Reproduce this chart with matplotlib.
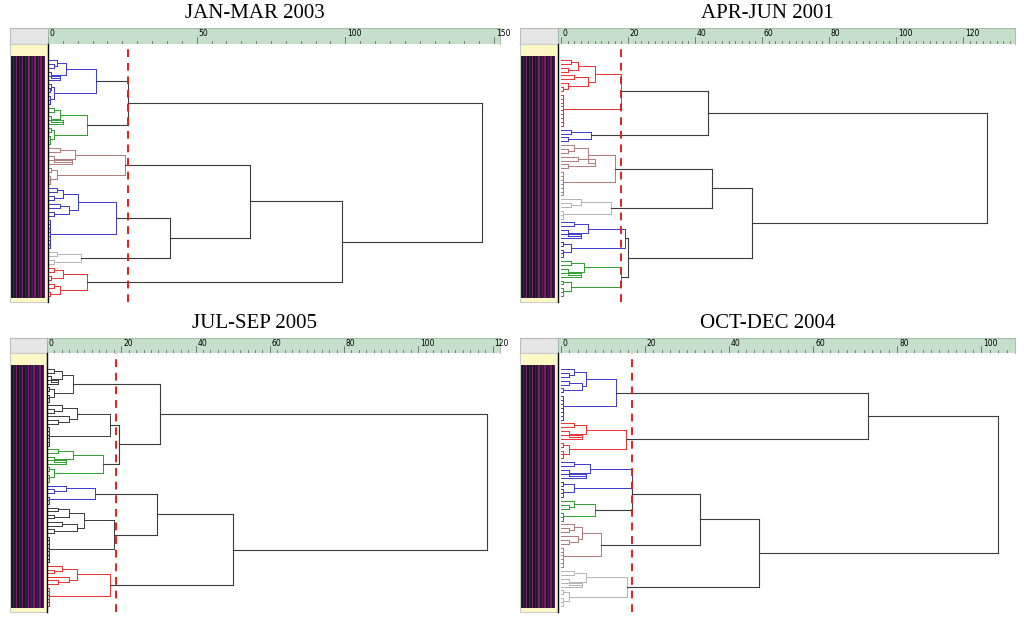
import matplotlib
matplotlib.use("Agg")
import matplotlib.pyplot as plt

W, H = 1024, 622
BLUE, GREEN, BROWN, GRAY, RED, BLK = '#3a3acc', '#2e9e2e', '#b07a7a', '#b4b4b4', '#ee3030', '#3c3c3c'

# ---------- data: clusters (color, leaves, internal merge heights) ----------
titles = ["JAN-MAR 2003", "APR-JUN 2001", "JUL-SEP 2005", "OCT-DEC 2004"]
cuts = [27, 18, 18.6, 17]
xmax = [152, 135.5, 122, 108]
xmin = [0, -0.9, 0, -0.7]
major = [50, 20, 20, 20]

p1 = {'b1': (BLUE, 12, [16, 6, 3, 2, 1, 4, 2, 1]), 'g': (GREEN, 10, [13, 4, 2, 1, 5, 2, 1]),
      'br': (BROWN, 10, [26, 9, 4, 2, 8, 3, 1]), 'b2': (BLUE, 16, [23, 10, 5, 3, 2, 7, 4, 2]),
      'gr': (GRAY, 4, [11, 3, 2]), 'r': (RED, 8, [13, 5, 2, 1, 4, 2])}
t1 = (146, (27, 'b1', 'g'), (99, (68, 'br', (41, 'b2', 'gr')), 'r'))

p2 = {'r': (RED, 18, [18, 10, 5, 3, 2, 8, 4, 2]), 'b': (BLUE, 4, [9, 3, 2]),
      'br': (BROWN, 14, [16, 8, 4, 2, 10, 5, 2]), 'gr': (GRAY, 6, [15, 6, 3]),
      'b2': (BLUE, 10, [19, 8, 4, 2, 6, 3]), 'g': (GREEN, 10, [18, 7, 3, 2, 6, 3])}
t2 = (127, (44, 'r', 'b'), (57, (45, 'br', 'gr'), (20, 'b2', 'g')))

p3 = {'a': (BLK, 10, [7, 4, 2, 1, 3, 2]), 'b': (BLK, 12, [17, 8, 4, 2, 6, 3]),
      'g': (GREEN, 10, [15, 7, 3, 2, 5, 2]), 'bl': (BLUE, 6, [13, 5, 2]),
      'k': (BLK, 16, [18, 10, 6, 3, 2, 8, 4, 2]), 'r': (RED, 12, [17, 8, 4, 2, 6, 3])}
t3 = (118.6, (30.5, 'a', (19.5, 'b', 'g')), (50, (29.5, 'bl', 'k'), 'r'))

p4 = {'b': (BLUE, 14, [13, 6, 3, 2, 5, 2]), 'r': (RED, 10, [15.5, 6, 3, 2, 5, 2]),
      'b2': (BLUE, 10, [17, 7, 3, 2, 6, 3]), 'g': (GREEN, 6, [8, 3, 2]),
      'br': (BROWN, 12, [9.5, 5, 3, 2, 4, 2]), 'gr': (GRAY, 10, [15.7, 6, 3, 2, 5, 2])}
t4 = (104, (73, 'b', 'r'), (47, (33, (17, 'b2', 'g'), 'br'), 'gr'))

panels = [(p1, t1), (p2, t2), (p3, t3), (p4, t4)]
# pixel boxes: strip x0, dendro x0, x1, ruler y0, body y0, body y1
boxes = [(10, 48, 500, 28, 44, 302), (520, 558, 1015, 28, 44, 302),
         (10, 47, 500, 338, 353, 612), (520, 558, 1015, 338, 353, 612)]

fig = plt.figure(figsize=(W / 100, H / 100), dpi=100)

def add_px(x0, y0, x1, y1):
    return fig.add_axes([x0 / W, 1 - y1 / H, (x1 - x0) / W, (y1 - y0) / H])

def draw(ax, node, clusters, state, color=None):
    """returns (y, x) of node top."""
    if isinstance(node, str):
        c, n, hs = clusters[node]
        it = iter(hs)
        return build(ax, n, it, c, state)
    h, l, r = node
    yl, xl = draw(ax, l, clusters, state)
    yr, xr = draw(ax, r, clusters, state)
    col = color or BLK
    ax.plot([xl, h], [yl, yl], color=col, lw=0.8)
    ax.plot([xr, h], [yr, yr], color=col, lw=0.8)
    ax.plot([h, h], [yl, yr], color=col, lw=0.8)
    return (yl + yr) / 2, h

def build(ax, n, it, c, state):
    if n == 1:
        y = state['i']; state['i'] += 1
        return y, 0.0
    h = next(it, 0.6)
    nl = n // 2
    yl, xl = build(ax, nl, it, c, state)
    yr, xr = build(ax, n - nl, it, c, state)
    ax.plot([xl, h], [yl, yl], color=c, lw=0.7)
    ax.plot([xr, h], [yr, yr], color=c, lw=0.7)
    ax.plot([h, h], [yl, yr], color=c, lw=0.7)
    return (yl + yr) / 2, h

for k, ((clusters, tree), (sx, dx, dx1, ry, by0, by1)) in enumerate(zip(panels, boxes)):
    N = sum(v[1] for v in clusters.values())
    # title
    fig.text(((sx + dx1) / 2) / W, 1 - (ry - 14) / H, titles[k], ha='center', va='center',
             fontsize=15, family='Liberation Serif')
    # corner
    c = add_px(sx, ry, dx, by0); c.set_facecolor('#e6e6e6'); c.set_xticks([]); c.set_yticks([])
    for s in c.spines.values(): s.set_color('#bbbbbb')
    # ruler
    r = add_px(dx, ry, dx1, by0); r.set_facecolor('#c6dfca')
    r.set_xlim(xmin[k], xmax[k]); r.set_ylim(0, 1); r.set_yticks([])
    r.set_xticks([])
    for s in r.spines.values(): s.set_color('#9bb59f'); s.set_linewidth(0.6)
    step = major[k] / 10
    v = 0.0
    while v <= xmax[k]:
        is_major = abs(v / major[k] - round(v / major[k])) < 1e-6
        r.plot([v, v], [0, 0.45 if is_major else 0.2], color='#555555', lw=0.5)
        if is_major:
            r.text(v + xmax[k] * 0.004, 0.95, f"{int(round(v))}", fontsize=5.5, va='top', ha='left')
        v += step
    # strip
    st = add_px(sx, by0, dx, by1); st.set_facecolor('#fdf8c4')
    st.set_xlim(0, 1); st.set_ylim(1, 0); st.set_xticks([]); st.set_yticks([])
    for s in st.spines.values(): s.set_color('#cccccc')
    cols = ['#111111', '#4a0f5a', '#1a1a3a', '#7a1a6a']
    for j in range(22):
        xx = 0.06 + j * 0.04
        st.plot([xx, xx], [0.05, 0.98], color=cols[j % 4], lw=1.4)
    # dendrogram
    ax = add_px(dx, by0, dx1, by1)
    ax.set_xlim(xmin[k], xmax[k])
    span = by1 - by0 - 22
    ax.set_ylim((N - 1) + 6 / span * (N - 1), -16 / span * (N - 1))
    ax.set_xticks([]); ax.set_yticks([])
    for nm in ['top', 'right', 'bottom']: ax.spines[nm].set_visible(False)
    ax.spines['left'].set_linewidth(1.0)
    draw(ax, tree, clusters, {'i': 0})
    ax.axvline(cuts[k], color='#e02020', ls=(0, (4, 3)), lw=1.4)

fig.savefig('out.png', dpi=100)
